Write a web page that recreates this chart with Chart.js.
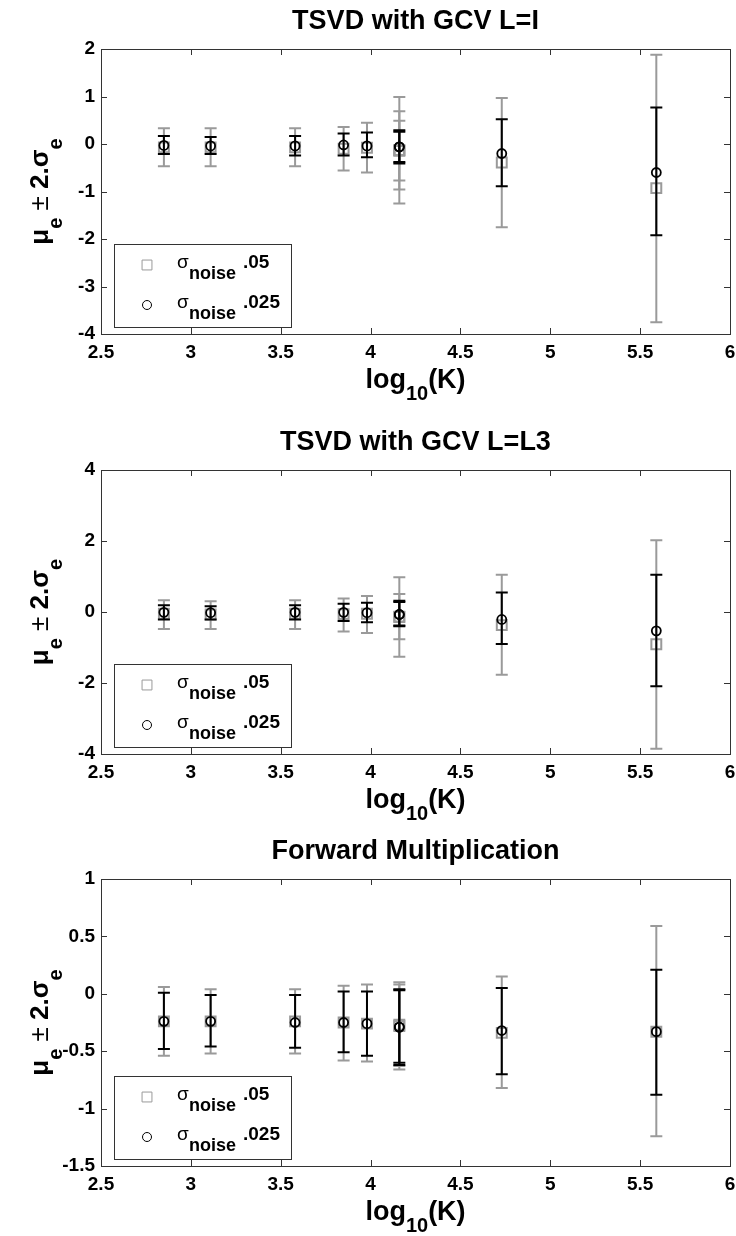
<!DOCTYPE html>
<html>
<head>
<meta charset="utf-8">
<script src="https://cdn.jsdelivr.net/npm/chart.js@4.4.1/dist/chart.umd.min.js"></script>
<style>
  html, body { margin: 0; background: #fff; overflow: hidden; }
  .panel { position: absolute; left: 0; width: 739px; height: 412px; }
</style>
</head>
<body>
<canvas id="c1" class="panel" width="739" height="412" style="top:0"></canvas>
<canvas id="c2" class="panel" width="739" height="412" style="top:412px"></canvas>
<canvas id="c3" class="panel" width="739" height="412" style="top:824px"></canvas>
<script>
// x axis: log10(K)
const xTickValues = [2.5, 3, 3.5, 4, 4.5, 5, 5.5, 6];

// panel 1 - TSVD with GCV L=I
const p1YTicks = [-4, -3, -2, -1, 0, 1, 2];
const p1X05 = [2.85, 3.11, 3.58, 3.85, 3.98, 4.16, 4.16, 4.16, 4.73, 5.59];
const p1Mean05 = [-0.07, -0.07, -0.07, -0.10, -0.08, -0.13, -0.14, -0.14, -0.39, -0.93];
const p1Hi05 = [0.33, 0.33, 0.33, 0.36, 0.45, 0.99, 0.69, 0.49, 0.97, 1.88];
const p1Lo05 = [-0.47, -0.47, -0.47, -0.56, -0.60, -1.25, -0.96, -0.77, -1.75, -3.75];
const p1X025 = [2.85, 3.11, 3.58, 3.85, 3.98, 4.16, 4.16, 4.73, 5.59];
const p1Mean025 = [-0.03, -0.04, -0.04, -0.02, -0.04, -0.06, -0.06, -0.20, -0.60];
const p1Hi025 = [0.17, 0.15, 0.17, 0.22, 0.24, 0.29, 0.26, 0.52, 0.77];
const p1Lo025 = [-0.21, -0.21, -0.24, -0.24, -0.28, -0.38, -0.41, -0.89, -1.92];

// panel 2 - TSVD with GCV L=L3
const p2YTicks = [-4, -2, 0, 2, 4];
const p2X05 = [2.85, 3.11, 3.58, 3.85, 3.98, 4.16, 4.16, 4.73, 5.59];
const p2Mean05 = [-0.05, -0.07, -0.05, -0.06, -0.05, -0.14, -0.13, -0.37, -0.91];
const p2Hi05 = [0.33, 0.30, 0.33, 0.38, 0.45, 0.98, 0.51, 1.05, 2.02];
const p2Lo05 = [-0.48, -0.48, -0.48, -0.55, -0.59, -1.26, -0.77, -1.77, -3.85];
const p2X025 = [2.85, 3.11, 3.58, 3.85, 3.98, 4.16, 4.16, 4.73, 5.59];
const p2Mean025 = [-0.01, -0.02, -0.01, -0.01, -0.02, -0.07, -0.07, -0.21, -0.53];
const p2Hi025 = [0.19, 0.16, 0.19, 0.23, 0.26, 0.32, 0.28, 0.55, 1.05];
const p2Lo025 = [-0.21, -0.21, -0.21, -0.25, -0.29, -0.38, -0.40, -0.90, -2.09];

// panel 3 - Forward Multiplication
const p3YTicks = [-1.5, -1, -0.5, 0, 0.5, 1];
const p3X05 = [2.85, 3.11, 3.58, 3.85, 3.98, 4.16, 4.16, 4.73, 5.59];
const p3Mean05 = [-0.24, -0.24, -0.24, -0.25, -0.26, -0.28, -0.27, -0.34, -0.33];
const p3Hi05 = [0.06, 0.04, 0.04, 0.07, 0.08, 0.10, 0.08, 0.15, 0.59];
const p3Lo05 = [-0.54, -0.52, -0.52, -0.58, -0.59, -0.66, -0.63, -0.82, -1.24];
const p3X025 = [2.85, 3.11, 3.58, 3.85, 3.98, 4.16, 4.16, 4.73, 5.59];
const p3Mean025 = [-0.24, -0.24, -0.25, -0.25, -0.26, -0.29, -0.29, -0.32, -0.33];
const p3Hi025 = [0.01, -0.01, -0.01, 0.02, 0.02, 0.04, 0.03, 0.05, 0.21];
const p3Lo025 = [-0.48, -0.46, -0.47, -0.51, -0.54, -0.62, -0.60, -0.70, -0.88];

const legendValues = ['.05', '.025'];

const FONT = '"Liberation Sans", Arial, Helvetica, sans-serif';
const GRAY = '#9a9a9a';
const AXIS = '#333';

// draws text made of runs (normal + subscript)
function drawRich(ctx, parts, x, y, align) {
  let total = 0;
  parts.forEach(p => {
    ctx.font = (p.weight || 'bold') + ' ' + p.size + 'px ' + FONT;
    p.w = ctx.measureText(p.t).width;
    total += p.w;
  });
  let cx = align === 'center' ? x - total / 2 : x;
  ctx.textAlign = 'left';
  ctx.textBaseline = 'alphabetic';
  parts.forEach(p => {
    ctx.font = (p.weight || 'bold') + ' ' + p.size + 'px ' + FONT;
    ctx.fillText(p.t, cx, y + (p.dy || 0));
    cx += p.w;
  });
}

const errorBars = {
  id: 'errorBars',
  beforeDatasetDraw(chart, args) {
    const ds = chart.data.datasets[args.index];
    const ys = chart.scales.y;
    const ctx = chart.ctx;
    ctx.save();
    ctx.strokeStyle = ds.barColor;
    ctx.lineWidth = 2;
    args.meta.data.forEach((pt, i) => {
      const top = ys.getPixelForValue(ds.hi[i]);
      const bot = ys.getPixelForValue(ds.lo[i]);
      ctx.beginPath();
      ctx.moveTo(pt.x, top); ctx.lineTo(pt.x, bot);
      ctx.moveTo(pt.x - 6, top); ctx.lineTo(pt.x + 6, top);
      ctx.moveTo(pt.x - 6, bot); ctx.lineTo(pt.x + 6, bot);
      ctx.stroke();
    });
    ctx.restore();
  }
};

// matlab style box with inward ticks, axis labels and legend
const axesBox = {
  id: 'axesBox',
  beforeDatasetsDraw(chart) {
    const { ctx, chartArea: a, scales } = chart;
    ctx.save();
    ctx.strokeStyle = AXIS;
    ctx.lineWidth = 1;
    ctx.strokeRect(a.left + 0.5, a.top + 0.5, a.right - a.left, a.bottom - a.top);
    ctx.beginPath();
    scales.x.ticks.forEach(t => {
      const px = Math.round(scales.x.getPixelForValue(t.value)) + 0.5;
      ctx.moveTo(px, a.bottom); ctx.lineTo(px, a.bottom - 6);
      ctx.moveTo(px, a.top); ctx.lineTo(px, a.top + 6);
    });
    scales.y.ticks.forEach(t => {
      const py = Math.round(scales.y.getPixelForValue(t.value)) + 0.5;
      ctx.moveTo(a.left, py); ctx.lineTo(a.left + 6, py);
      ctx.moveTo(a.right, py); ctx.lineTo(a.right - 6, py);
    });
    ctx.stroke();
    ctx.restore();
  },
  afterDraw(chart) {
    const { ctx, chartArea: a } = chart;
    ctx.save();
    ctx.fillStyle = '#000';
    // x label
    drawRich(ctx, [
      { t: 'log', size: 27 },
      { t: '10', size: 20, dy: 12 },
      { t: '(K)', size: 27 }
    ], (a.left + a.right) / 2, a.bottom + 54, 'center');
    // y label
    ctx.save();
    ctx.translate(48, (a.top + a.bottom) / 2);
    ctx.rotate(-Math.PI / 2);
    drawRich(ctx, [
      { t: 'μ', size: 26 },
      { t: 'e', size: 20, dy: 14 },
      { t: ' ', size: 26 },
      { t: '±', size: 26, weight: 'normal' },
      { t: ' 2.', size: 26 },
      { t: 'σ', size: 26 },
      { t: 'e', size: 20, dy: 14 }
    ], 0, 0, 'center');
    ctx.restore();

    // legend
    const bx = a.left + 13, bw = 177, bh = 83;
    const by = a.bottom - 7 - bh;
    ctx.fillStyle = '#fff';
    ctx.fillRect(bx, by, bw, bh);
    ctx.strokeStyle = AXIS;
    ctx.lineWidth = 1;
    ctx.strokeRect(bx + 0.5, by + 0.5, bw, bh);
    const rows = [
      { style: 'rect', radius: 7, color: GRAY, y: by + 21, base: by + 24 },
      { style: 'circle', radius: 4.5, color: '#000', y: by + 61, base: by + 64 }
    ];
    rows.forEach((r, i) => {
      ctx.strokeStyle = r.color;
      ctx.fillStyle = 'rgba(0,0,0,0)';
      Chart.helpers.drawPoint(ctx, { pointStyle: r.style, radius: r.radius, borderWidth: 1.5, rotation: 0 }, bx + 33, r.y);
      ctx.fillStyle = '#000';
      drawRich(ctx, [{ t: 'σ', size: 19, weight: 'normal' }], bx + 63, r.base, 'left');
      drawRich(ctx, [{ t: 'noise', size: 18 }], bx + 75, r.base + 11, 'left');
      drawRich(ctx, [{ t: legendValues[i], size: 19 }], bx + 129, r.base, 'left');
    });
    ctx.restore();
  }
};

function makePanel(id, title, titleTop, bottomH, yTicks, x05, mean05, hi05, lo05, x025, mean025, hi025, lo025) {
  const ctx = document.getElementById(id).getContext('2d');
  return new Chart(ctx, {
    type: 'scatter',
    data: {
      datasets: [
        {
          label: 'σnoise .025',
          data: x025.map((x, i) => ({ x: x, y: mean025[i] })),
          hi: hi025,
          lo: lo025,
          barColor: '#000',
          pointStyle: 'circle',
          pointRadius: 4.5,
          pointBorderWidth: 1.8,
          pointBorderColor: '#000',
          pointBackgroundColor: 'rgba(0,0,0,0)'
        },
        {
          label: 'σnoise .05',
          data: x05.map((x, i) => ({ x: x, y: mean05[i] })),
          hi: hi05,
          lo: lo05,
          barColor: GRAY,
          pointStyle: 'rect',
          pointRadius: 7,
          pointBorderWidth: 2,
          pointBorderColor: GRAY,
          pointBackgroundColor: 'rgba(0,0,0,0)'
        }
      ]
    },
    options: {
      responsive: false,
      animation: false,
      devicePixelRatio: 1,
      layout: { padding: { left: 0, right: 0, top: 0, bottom: 0 } },
      scales: {
        x: {
          type: 'linear',
          min: 2.5,
          max: 6,
          afterBuildTicks: s => { s.ticks = xTickValues.map(v => ({ value: v })); },
          afterFit: s => {
            s.height = bottomH;
            s.paddingLeft = 0;
            s.paddingRight = 3;
          },
          grid: { display: false, drawTicks: false },
          border: { display: false },
          ticks: {
            color: '#000',
            padding: 7,
            maxRotation: 0,
            autoSkip: false,
            font: { family: FONT, size: 19, weight: 'bold' },
            callback: v => String(v)
          }
        },
        y: {
          type: 'linear',
          min: yTicks[0],
          max: yTicks[yTicks.length - 1],
          afterBuildTicks: s => { s.ticks = yTicks.map(v => ({ value: v })); },
          afterFit: s => { s.width = 101; },
          grid: { display: false, drawTicks: false },
          border: { display: false },
          ticks: {
            color: '#000',
            padding: 6,
            autoSkip: false,
            font: { family: FONT, size: 19, weight: 'bold' },
            callback: v => String(v)
          }
        }
      },
      plugins: {
        legend: { display: false },
        tooltip: { enabled: false },
        title: {
          display: true,
          fullSize: false,
          text: title,
          color: '#000',
          font: { family: FONT, size: 27, weight: 'bold' },
          padding: { top: titleTop, bottom: 11.6 }
        }
      }
    },
    plugins: [errorBars, axesBox]
  });
}

makePanel('c1', 'TSVD with GCV L=I', 5, 78, p1YTicks, p1X05, p1Mean05, p1Hi05, p1Lo05, p1X025, p1Mean025, p1Hi025, p1Lo025);
makePanel('c2', 'TSVD with GCV L=L3', 14, 70, p2YTicks, p2X05, p2Mean05, p2Hi05, p2Lo05, p2X025, p2Mean025, p2Hi025, p2Lo025);
makePanel('c3', 'Forward Multiplication', 11, 70, p3YTicks, p3X05, p3Mean05, p3Hi05, p3Lo05, p3X025, p3Mean025, p3Hi025, p3Lo025);
</script>
</body>
</html>
